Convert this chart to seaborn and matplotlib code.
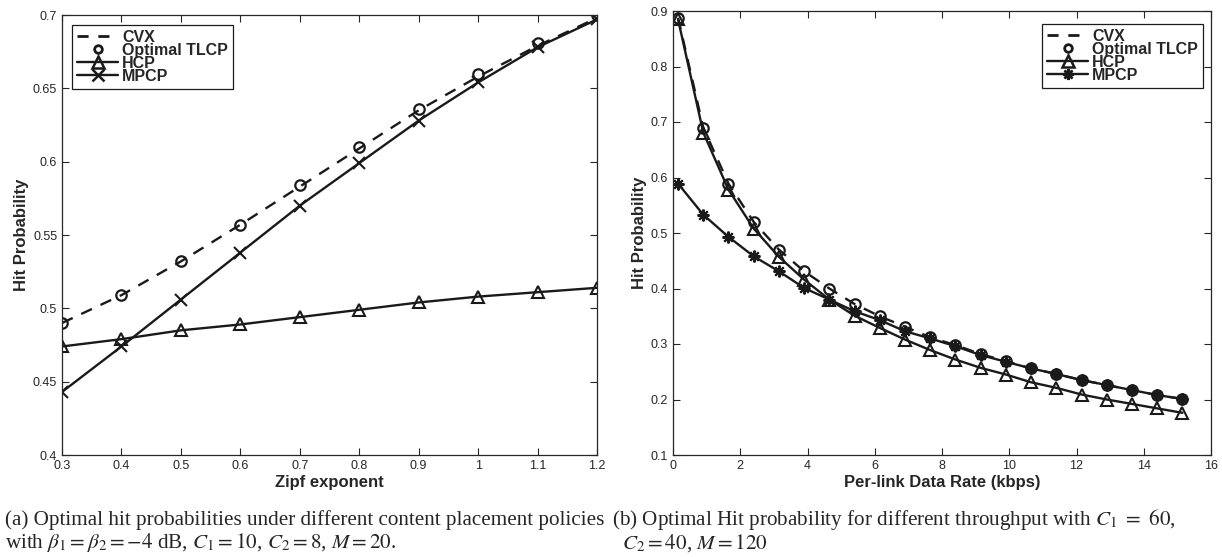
import numpy as np
import pandas as pd
import matplotlib
matplotlib.use("Agg")
import matplotlib.pyplot as plt
import seaborn as sns
from matplotlib.lines import Line2D

# ---------------- data ----------------
zipf = [0.3, 0.4, 0.5, 0.6, 0.7, 0.8, 0.9, 1.0, 1.1, 1.2]
a_cvx = [0.490, 0.509, 0.532, 0.557, 0.583, 0.609, 0.635, 0.658, 0.679, 0.698]
a_tlcp = [0.490, 0.509, 0.532, 0.557, 0.584, 0.610, 0.636, 0.660, 0.681, 0.700]
a_hcp = [0.474, 0.479, 0.485, 0.489, 0.494, 0.499, 0.504, 0.508, 0.511, 0.514]
a_mpcp = [0.443, 0.474, 0.506, 0.538, 0.570, 0.599, 0.628, 0.654, 0.678, 0.697]

rate = [0.15, 0.9, 1.65, 2.4, 3.15, 3.9, 4.65, 5.4, 6.15, 6.9, 7.65,
        8.4, 9.15, 9.9, 10.65, 11.4, 12.15, 12.9, 13.65, 14.4, 15.15]
b_cvx = [0.888, 0.690, 0.589, 0.520, 0.470, 0.431, 0.400, 0.372, 0.350, 0.331,
         0.312, 0.298, 0.282, 0.269, 0.256, 0.246, 0.235, 0.226, 0.217, 0.208, 0.201]
b_tlcp = [0.888, 0.690, 0.589, 0.520, 0.470, 0.431, 0.400, 0.372, 0.350, 0.331,
          0.312, 0.298, 0.282, 0.269, 0.256, 0.246, 0.235, 0.226, 0.217, 0.208, 0.201]
b_hcp = [0.885, 0.681, 0.578, 0.508, 0.457, 0.416, 0.380, 0.351, 0.329, 0.308,
         0.289, 0.272, 0.257, 0.245, 0.231, 0.221, 0.209, 0.200, 0.192, 0.184, 0.176]
b_mpcp = [0.589, 0.533, 0.493, 0.458, 0.431, 0.401, 0.380, 0.359, 0.343, 0.323,
          0.310, 0.296, 0.280, 0.268, 0.256, 0.246, 0.235, 0.226, 0.217, 0.208, 0.201]

labels = ["CVX", "Optimal TLCP", "HCP", "MPCP"]
a_xticks = [0.3, 0.4, 0.5, 0.6, 0.7, 0.8, 0.9, 1, 1.1, 1.2]
a_yticks = [0.4, 0.45, 0.5, 0.55, 0.6, 0.65, 0.7]
b_xticks = [0, 2, 4, 6, 8, 10, 12, 14, 16]
b_yticks = [0.1, 0.2, 0.3, 0.4, 0.5, 0.6, 0.7, 0.8, 0.9]

cap_a = ["(a) Optimal hit probabilities under different content placement policies",
         r"with $\beta_1 = \beta_2 = -4$ dB, $C_1 = 10$, $C_2 = 8$, $M = 20$."]
cap_b = [r"(b) Optimal Hit probability for different throughput with $C_1\ =\ 60$,",
         r"$C_2 = 40$, $M = 120$"]

# ---------------- style ----------------
sns.set_theme(style="ticks")
plt.rcParams["font.family"] = ["Liberation Sans", "DejaVu Sans"]
plt.rcParams["mathtext.fontset"] = "stix"
GRAY = "#262626"

fig = plt.figure(figsize=(12.22, 5.57), dpi=100)
W, H = 1222, 557
axA = fig.add_axes([62 / W, (H - 455) / H, 535 / W, 440 / H])
axB = fig.add_axes([673 / W, (H - 455) / H, 538 / W, 444 / H])

LW = 1.7
MS = 7.5


def draw(ax, x, cvx, tlcp, hcp, mpcp, mk4):
    sns.lineplot(x=x, y=cvx, ax=ax, color="k", lw=LW, linestyle=(0, (5, 4)))
    sns.lineplot(x=x, y=tlcp, ax=ax, color="k", linestyle="", marker="o",
                 markersize=MS, mfc="none", mec="k", mew=1.6)
    sns.lineplot(x=x, y=hcp, ax=ax, color="k", lw=LW, marker="^",
                 markersize=MS + 1, mfc="none", mec="k", mew=1.5)
    sns.lineplot(x=x, y=mpcp, ax=ax, color="k", lw=LW, marker=mk4,
                 markersize=MS + 1, mec="k", mew=1.5)
    handles = [
        Line2D([], [], color="k", lw=2.0, linestyle=(0, (4, 3.5))),
        Line2D([], [], color="k", linestyle="", marker="o", markersize=5.5,
               mfc="none", mec="k", mew=2.0),
        Line2D([], [], color="k", lw=LW, marker="^", markersize=8,
               mfc="none", mec="k", mew=1.8),
        Line2D([], [], color="k", lw=LW, marker=mk4, markersize=8, mec="k", mew=1.8),
    ]
    return handles


hA = draw(axA, zipf, a_cvx, a_tlcp, a_hcp, a_mpcp, "x")
hB = draw(axB, rate, b_cvx, b_tlcp, b_hcp, b_mpcp, (8, 2, 0))

for ax, xt, yt, xl in [(axA, a_xticks, a_yticks, "Zipf exponent"),
                       (axB, b_xticks, b_yticks, "Per-link Data Rate (kbps)")]:
    ax.set_xlim(xt[0], xt[-1])
    ax.set_ylim(yt[0], yt[-1])
    ax.set_xticks(xt)
    ax.set_yticks(yt)
    ax.set_xticklabels([f"{v:g}" for v in xt])
    ax.set_yticklabels([f"{v:g}" for v in yt])
    ax.tick_params(direction="in", top=True, right=True, length=5, width=0.8,
                   colors=GRAY, labelsize=9, pad=3.5)
    for s in ax.spines.values():
        s.set_visible(True)
        s.set_color(GRAY)
        s.set_linewidth(0.9)
    ax.set_xlabel(xl, fontsize=12, fontweight="bold", color=GRAY, labelpad=2.5)
    ax.set_ylabel("Hit Probability", fontsize=12, fontweight="bold", color=GRAY,
                  labelpad=3)
    ax.set_facecolor("white")

leg_kw = dict(bbox_transform=fig.transFigure, borderaxespad=0, frameon=True,
              fancybox=False, edgecolor="k", framealpha=1,
              prop={"weight": "bold", "size": 11.5}, labelspacing=-0.12,
              handlelength=2.6, handletextpad=0.25, borderpad=0.3)
legA = fig.legend(hA, labels, loc="upper left", bbox_to_anchor=(72 / W, 1 - 25 / H), **leg_kw)
legA.get_frame().set_linewidth(0.9)
legB = fig.legend(hB, labels, loc="upper right", bbox_to_anchor=(1203 / W, 1 - 24 / H), **leg_kw)
legB.get_frame().set_linewidth(0.9)

serif = ["Liberation Serif", "DejaVu Serif"]
CS = 15.2
fig.text(5 / W, 1 - 520 / H, cap_a[0], family=serif, fontsize=CS, va="center", ha="left")
fig.text(5 / W, 1 - 543 / H, cap_a[1], family=serif, fontsize=CS, va="center", ha="left")
fig.text(612 / W, 1 - 520 / H, cap_b[0], family=serif, fontsize=CS, va="center", ha="left")
fig.text(622 / W, 1 - 543 / H, cap_b[1], family=serif, fontsize=CS, va="center", ha="left")

fig.savefig("out.png", dpi=100, facecolor="white")
